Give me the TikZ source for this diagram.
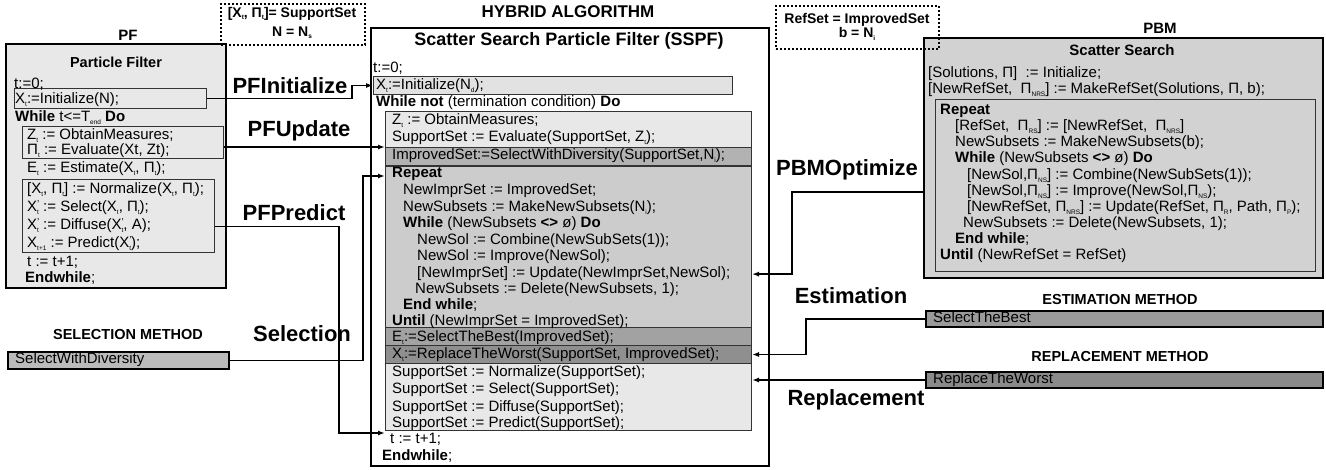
\documentclass[tikz,border=0pt]{standalone}
\usepackage{fontspec}
\setmainfont{Liberation Sans}
\usetikzlibrary{arrows.meta}
\definecolor{pfgray}{HTML}{E8E8E8}
\definecolor{initgray}{HTML}{E2E2E2}
\definecolor{impgray}{HTML}{B2B2B2}
\definecolor{repgray}{HTML}{CCCCCC}
\definecolor{etgray}{HTML}{A2A2A2}
\definecolor{xtgray}{HTML}{8F8F8F}
\definecolor{pbmgray}{HTML}{D2D2D2}
\definecolor{selgray}{HTML}{BBBBBB}
\definecolor{estgray}{HTML}{9A9A9A}
\definecolor{rplgray}{HTML}{8A8A8A}
\newcommand\sbs[1]{\raisebox{-0.3ex}{\fontsize{6.5}{7}\selectfont #1}}
\newcommand\sps[2]{\makebox[0pt][l]{\raisebox{0.55ex}{\fontsize{10}{10}\selectfont #1}}\raisebox{-0.3ex}{\fontsize{6.5}{7}\selectfont #2}}
\begin{document}
\begin{tikzpicture}[x=1pt,y=-1pt,
  code/.style={anchor=base west, inner sep=0pt, font=\fontsize{15}{18}\selectfont},
  ttl/.style={inner sep=0pt, font=\fontsize{15}{18}\selectfont\bfseries},
  lbl/.style={inner sep=0pt, font=\fontsize{22}{26}\selectfont\bfseries},
  box/.style={draw=black!80, line width=1pt, rectangle, inner sep=0pt, anchor=north west},
  obox/.style={draw=black, line width=2pt, rectangle, inner sep=0pt, anchor=north west},
  dbox/.style={draw=black, line width=2pt, dash pattern=on 2pt off 2pt, rectangle, inner sep=0pt, anchor=north west},
  conn/.style={line width=1.8pt, -{Latex[length=7pt,width=5pt]}},
]
\fill[white] (0,0) rectangle (1326,470);
\useasboundingbox (0,0) rectangle (1326,470);

% ---------- boxes ----------
\node[obox, fill=pfgray, minimum width=220pt, minimum height=244pt] (pfbox) at (5,43) {};
\node[box, fill=pfgray, minimum width=192pt, minimum height=20pt] (pfinit) at (14,88) {};
\node[box, fill=pfgray, minimum width=201pt, minimum height=32pt] (pfz) at (22,126) {};
\node[box, fill=pfgray, minimum width=192pt, minimum height=73pt] (pflow) at (22,179) {};
\node[dbox, minimum width=144pt, minimum height=41pt] (d1) at (220,3) {};

\node[obox, fill=white, minimum width=398pt, minimum height=438pt] (ssbox) at (370,27) {};
\node[box, fill=initgray, minimum width=359pt, minimum height=18pt] (ssinit) at (373,76) {};
\node[box, fill=pfgray, minimum width=366pt, minimum height=36pt] (ssa) at (385,111) {};
\node[box, fill=impgray, minimum width=366pt, minimum height=18pt] (ssimp) at (385,147) {};
\node[box, fill=repgray, minimum width=366pt, minimum height=161pt] (ssrep) at (385,166) {};
\node[box, fill=etgray, minimum width=366pt, minimum height=18pt] (sset) at (385,327) {};
\node[box, fill=xtgray, minimum width=366pt, minimum height=18pt] (ssxt) at (385,345) {};
\node[box, fill=pfgray, minimum width=366pt, minimum height=67pt] (ssupp) at (385,363) {};

\node[obox, fill=pbmgray, minimum width=399pt, minimum height=240pt] (pbm) at (923,37) {};
\node[box, fill=pbmgray, minimum width=380pt, minimum height=172pt] (pbrep) at (935,99) {};
\node[dbox, minimum width=163pt, minimum height=43pt] (d2) at (775,5) {};

\node[obox, fill=selgray, minimum width=221pt, minimum height=17pt] (selbox) at (7,351) {};
\node[obox, fill=estgray, minimum width=397pt, minimum height=16pt] (estbox) at (925,310) {};
\node[obox, fill=rplgray, minimum width=397pt, minimum height=16pt] (repbox) at (925,371) {};

% ---------- titles ----------
\node[ttl, font=\fontsize{17}{20}\selectfont\bfseries] (hyb) at (568,12) {HYBRID ALGORITHM};
\node[ttl] (pflbl) at (128,35) {PF};
\node[ttl] (pbmlbl) at (1160,28) {PBM};
\node[ttl, font=\fontsize{14.5}{17}\selectfont\bfseries] (pftitle) at (116,62) {Particle Filter};
\node[ttl, font=\fontsize{18}{21}\selectfont\bfseries] (sstitle) at (569,41) {Scatter Search Particle Filter (SSPF)};
\node[ttl] (pbmtitle) at (1122,50) {Scatter Search};
\node[ttl, font=\fontsize{14}{17}\selectfont\bfseries] (d1a) at (292,14) {[X\sbs{t}, Π\sbs{t}]= SupportSet};
\node[ttl, font=\fontsize{14}{17}\selectfont\bfseries] (d1b) at (292,33) {N = N\sbs{s}};
\node[ttl, font=\fontsize{14}{17}\selectfont\bfseries] (d2a) at (857,20) {RefSet = ImprovedSet};
\node[ttl, font=\fontsize{14}{17}\selectfont\bfseries] (d2b) at (857,34) {b = N\sbs{i}};
\node[ttl, font=\fontsize{14.5}{17}\selectfont\bfseries] (selt) at (128,335) {SELECTION METHOD};
\node[ttl, font=\fontsize{14.5}{17}\selectfont\bfseries] (estt) at (1120,300) {ESTIMATION METHOD};
\node[ttl, font=\fontsize{14.5}{17}\selectfont\bfseries] (rept) at (1120,357) {REPLACEMENT METHOD};

% ---------- PF code ----------
\node[code] (pf1) at (14,89) {t:=0;};
\node[code] (pf2) at (15,104) {X\sbs{t}:=Initialize(N);};
\node[code] (pf3) at (15,122) {\textbf{While} t<=T\sbs{end} \textbf{Do}};
\node[code] (pf4) at (27,140) {Z\sbs{t} := ObtainMeasures;};
\node[code] (pf5) at (27,155) {Π\sbs{t} := Evaluate(Xt, Zt);};
\node[code] (pf6) at (27,173) {E\sbs{t} := Estimate(X\sbs{t}, Π\sbs{t});};
\node[code] (pf7) at (27,194) {[X\sbs{t}, Π\sbs{t}] := Normalize(X\sbs{t}, Π\sbs{t});};
\node[code] (pf8) at (27,212) {X\sps{'}{t} := Select(X\sbs{t}, Π\sbs{t});};
\node[code] (pf9) at (27,230) {X\sps{'}{t} := Diffuse(X\sps{'}{t}, A);};
\node[code] (pf10) at (27,248) {X\sbs{t+1} := Predict(X\sps{'}{t});};
\node[code] (pf11) at (27,267) {t := t+1;};
\node[code] (pf12) at (25,283) {\textbf{Endwhile};};

% ---------- SSPF code ----------
\node[code] (s1) at (373,73) {t:=0;};
\node[code] (s2) at (376,90) {X\sbs{t}:=Initialize(N\sbs{d});};
\node[code] (s3) at (376,107) {\textbf{While not} (termination condition) \textbf{Do}};
\node[code] (s4) at (392,125) {Z\sbs{t} := ObtainMeasures;};
\node[code] (s5) at (392,142) {SupportSet := Evaluate(SupportSet, Z\sbs{t});};
\node[code] (s6) at (392,160) {ImprovedSet:=SelectWithDiversity(SupportSet,N\sbs{i});};
\node[code] (s7) at (392,178) {\textbf{Repeat}};
\node[code] (s8) at (403,195) {NewImprSet := ImprovedSet;};
\node[code] (s9) at (403,212) {NewSubsets := MakeNewSubsets(N\sbs{i});};
\node[code] (s10) at (403,228) {\textbf{While} (NewSubsets \textbf{<>} ø) \textbf{Do}};
\node[code] (s11) at (417,245) {NewSol := Combine(NewSubSets(1));};
\node[code] (s12) at (417,261) {NewSol := Improve(NewSol);};
\node[code] (ssupd) at (417,278) {[NewImprSet] := Update(NewImprSet,NewSol);};
\node[code] (s14) at (415,294) {NewSubsets := Delete(NewSubsets, 1);};
\node[code] (s15) at (403,310) {\textbf{End while};};
\node[code] (s16) at (392,326) {\textbf{Until} (NewImprSet = ImprovedSet);};
\node[code] (s17) at (392,342) {E\sbs{t}:=SelectTheBest(ImprovedSet);};
\node[code] (s18) at (392,359) {X\sbs{t}:=ReplaceTheWorst(SupportSet, ImprovedSet);};
\node[code] (s19) at (392,377) {SupportSet := Normalize(SupportSet);};
\node[code] (s20) at (392,394) {SupportSet := Select(SupportSet);};
\node[code] (s21) at (392,411) {SupportSet := Diffuse(SupportSet);};
\node[code] (s22) at (392,427) {SupportSet := Predict(SupportSet);};
\node[code] (s23) at (390,443) {t := t+1;};
\node[code] (s24) at (382,460) {\textbf{Endwhile};};

% ---------- PBM code ----------
\node[code] (b1) at (928,78) {[Solutions, Π]\ \ := Initialize;};
\node[code] (b2) at (928,94) {[NewRefSet,\ \ Π\sbs{NRS}] := MakeRefSet(Solutions, Π, b);};
\node[code] (b3) at (940,115) {\textbf{Repeat}};
\node[code] (b4) at (955,131) {[RefSet,\ \ Π\sbs{RS}] := [NewRefSet,\ \ Π\sbs{NRS}]};
\node[code] (b5) at (955,147) {NewSubsets := MakeNewSubsets(b);};
\node[code] (b6) at (955,163) {\textbf{While} (NewSubsets \textbf{<>} ø) \textbf{Do}};
\node[code] (b7) at (967,180) {[NewSol,Π\sbs{NS}] := Combine(NewSubSets(1));};
\node[code] (pbimp) at (967,196) {[NewSol,Π\sbs{NS}] := Improve(NewSol,Π\sbs{NS});};
\node[code] (b9) at (967,212) {[NewRefSet, Π\sbs{NRS}] := Update(RefSet, Π\sbs{R}, Path, Π\sbs{P});};
\node[code] (b10) at (963,228) {NewSubsets := Delete(NewSubsets, 1);};
\node[code] (b11) at (955,244) {\textbf{End while};};
\node[code] (b12) at (940,260) {\textbf{Until} (NewRefSet = RefSet)};

% ---------- method boxes text ----------
\node[code] (selx) at (15,364) {SelectWithDiversity};
\node[code] (estx) at (933,323) {SelectTheBest};
\node[code] (repx) at (933,384) {ReplaceTheWorst};

% ---------- connector labels ----------
\node[lbl] (lInit) at (290,86) {PFInitialize};
\node[lbl] (lUpd) at (299,131) {PFUpdate};
\node[lbl] (lPred) at (294,213) {PFPredict};
\node[lbl] (lSel) at (302,334) {Selection};
\node[lbl] (lOpt) at (847,170) {PBMOptimize};
\node[lbl] (lEst) at (851,296) {Estimation};
\node[lbl] (lRep) at (856,400) {Replacement};

% ---------- connectors ----------
\coordinate (c1) at (352,0);
\coordinate (c2) at (339,0);
\coordinate (c3) at (363,0);
\coordinate (c4) at (792,0);
\coordinate (c5) at (806,0);
\draw[conn] (pfinit.east) -- (pfinit.east -| c1) |- (ssinit.west);
\draw[conn] (pfz.east |- ssimp.north west) -- (ssimp.north west);
\draw[conn] ([yshift=-10.5pt]pflow.east) -- ([yshift=-10.5pt]pflow.east -| c2) |- ([yshift=-2pt]ssupp.south west);
\draw[conn] (selbox.east) -- (selbox.east -| c3) |- ([yshift=-10pt]ssrep.north west);
\draw[conn] (pbm.west |- pbimp) -- (c4 |- pbimp) |- (ssrep.east |- ssupd);
\draw[conn] (estbox.west) -- (estbox.west -| c5) |- (ssxt.east);
\draw[conn] (repbox.west) -- (repbox.west -| ssupp.east);
\end{tikzpicture}
\end{document}
